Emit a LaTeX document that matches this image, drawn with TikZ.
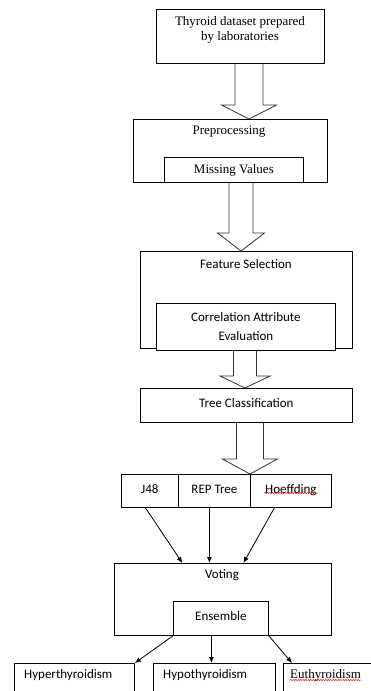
\documentclass[tikz,border=0pt]{standalone}
\usepackage{fontspec}
\setmainfont{Liberation Serif}
\newfontfamily\calibri{Carlito}
\usetikzlibrary{calc,arrows.meta,decorations.pathmorphing}

\tikzset{
  box/.style={draw, fill=white, line width=0.8pt, inner sep=0pt, anchor=north west},
  tnr/.style={font=\fontsize{13}{15}\selectfont, inner sep=0pt, align=center},
  cal/.style={font=\calibri\fontsize{13}{19}\selectfont, inner sep=0pt, align=center},
  thinarrow/.style={draw, line width=0.8pt, -{Latex[length=6pt,width=5pt]}},
  blk/.style={draw=black!80, line width=0.8pt, line join=miter},
  squiggle/.style={draw=red, line width=0.5pt, decorate,
    decoration={snake, amplitude=0.6pt, segment length=2.5pt}}
}

% #1 from anchor, #2 to anchor, #3 centre x, #4 half shaft, #5 half head, #6 head length
\newcommand\blockarr[6]{%
  \draw[blk] let \p1=(#1), \p2=(#2) in
    (#3pt-#4pt,\y1) -- (#3pt-#4pt,\y2+#6pt) -- (#3pt-#5pt,\y2+#6pt) -- (#3pt,\y2)
    -- (#3pt+#5pt,\y2+#6pt) -- (#3pt+#4pt,\y2+#6pt) -- (#3pt+#4pt,\y1);}

\begin{document}
\begin{tikzpicture}[x=1pt,y=-1pt]
\useasboundingbox (0,0) rectangle (371,691);
\clip (0,0) rectangle (371,691);

% source
\node[box, minimum width=168pt, minimum height=54pt] (src) at (156,9) {};
\node[tnr] (srctxt) at (240,30) {Thyroid dataset prepared\\by laboratories};

% preprocessing
\node[box, minimum width=194pt, minimum height=63pt] (pre) at (133,119) {};
\node[tnr] (pretxt) at (229,132) {Preprocessing};
\node[box, tnr, minimum width=139pt, minimum height=25pt] (miss) at (164,157) {Missing Values};

% feature selection
\node[box, minimum width=212pt, minimum height=97pt] (fs) at (140,251) {};
\node[cal] (fstxt) at (246,264) {Feature Selection};
\node[box, cal, minimum width=179pt, minimum height=47pt] (corr) at (156,303) {Correlation Attribute\\Evaluation};

% tree classification
\node[box, cal, minimum width=212pt, minimum height=34pt] (tree) at (140,388) {\raisebox{4pt}{Tree Classification}};

% classifiers
\node[box, cal, minimum width=57pt, minimum height=33pt] (j48) at (121,474) {\raisebox{3pt}{J48}};
\node[box, cal, minimum width=72pt, minimum height=33pt] (rep) at (178,474) {\raisebox{3pt}{REP Tree}};
\node[box, cal, minimum width=81pt, minimum height=33pt] (hoef) at (250,474) {\raisebox{3pt}{Hoeffding}};

% voting
\node[box, minimum width=217pt, minimum height=72pt] (vote) at (114,563) {};
\node[cal] (votetxt) at (222,575) {Voting};
\node[box, cal, minimum width=95pt, minimum height=34pt] (ens) at (173,601) {\raisebox{4pt}{Ensemble}};

% outcomes
\node[box, minimum width=120pt, minimum height=50pt] (hyper) at (14,663) {};
\node[cal, anchor=west] (hypertxt) at (24,675) {Hyperthyroidism};
\node[box, minimum width=122pt, minimum height=50pt] (hypo) at (153,663) {};
\node[cal, anchor=west] (hypotxt) at (163,675) {Hypothyroidism};
\node[box, minimum width=100pt, minimum height=50pt] (eu) at (283,663) {};
\node[tnr, anchor=west] (eutxt) at (290,675) {Euthyroidism};

% block arrows
\blockarr{src.south}{pre.north}{249}{14}{27.5}{14}
\blockarr{pre.south}{fs.north}{241}{12}{23.5}{18}
\blockarr{corr.south}{tree.north}{245}{11.5}{25}{12}
\blockarr{tree.south}{j48.north}{250}{13.5}{27.5}{15}

% thin arrows
\draw[thinarrow] ($(j48.south)+(-4.5,0)$) -- ($(vote.north)+(-40.5,0)$);
\draw[thinarrow] ($(rep.south)+(-5,0)$) -- ($(vote.north)+(-13.5,0)$);
\draw[thinarrow] ($(hoef.south)+(-16.5,0)$) -- ($(vote.north)+(20.5,0)$);

\draw[thinarrow] (ens.south west) -- (hyper.north east);
\draw[thinarrow] ($(ens.south)+(-9.5,0)$) -- ($(hypo.north)+(-3,0)$);
\draw[thinarrow] (ens.south east) -- ($(eu.north west)+(9,0)$);

% spell-check squiggles
\draw[squiggle] (264,493) -- (317,493);
\draw[squiggle] (290,680) -- (361,680);
\end{tikzpicture}
\end{document}
